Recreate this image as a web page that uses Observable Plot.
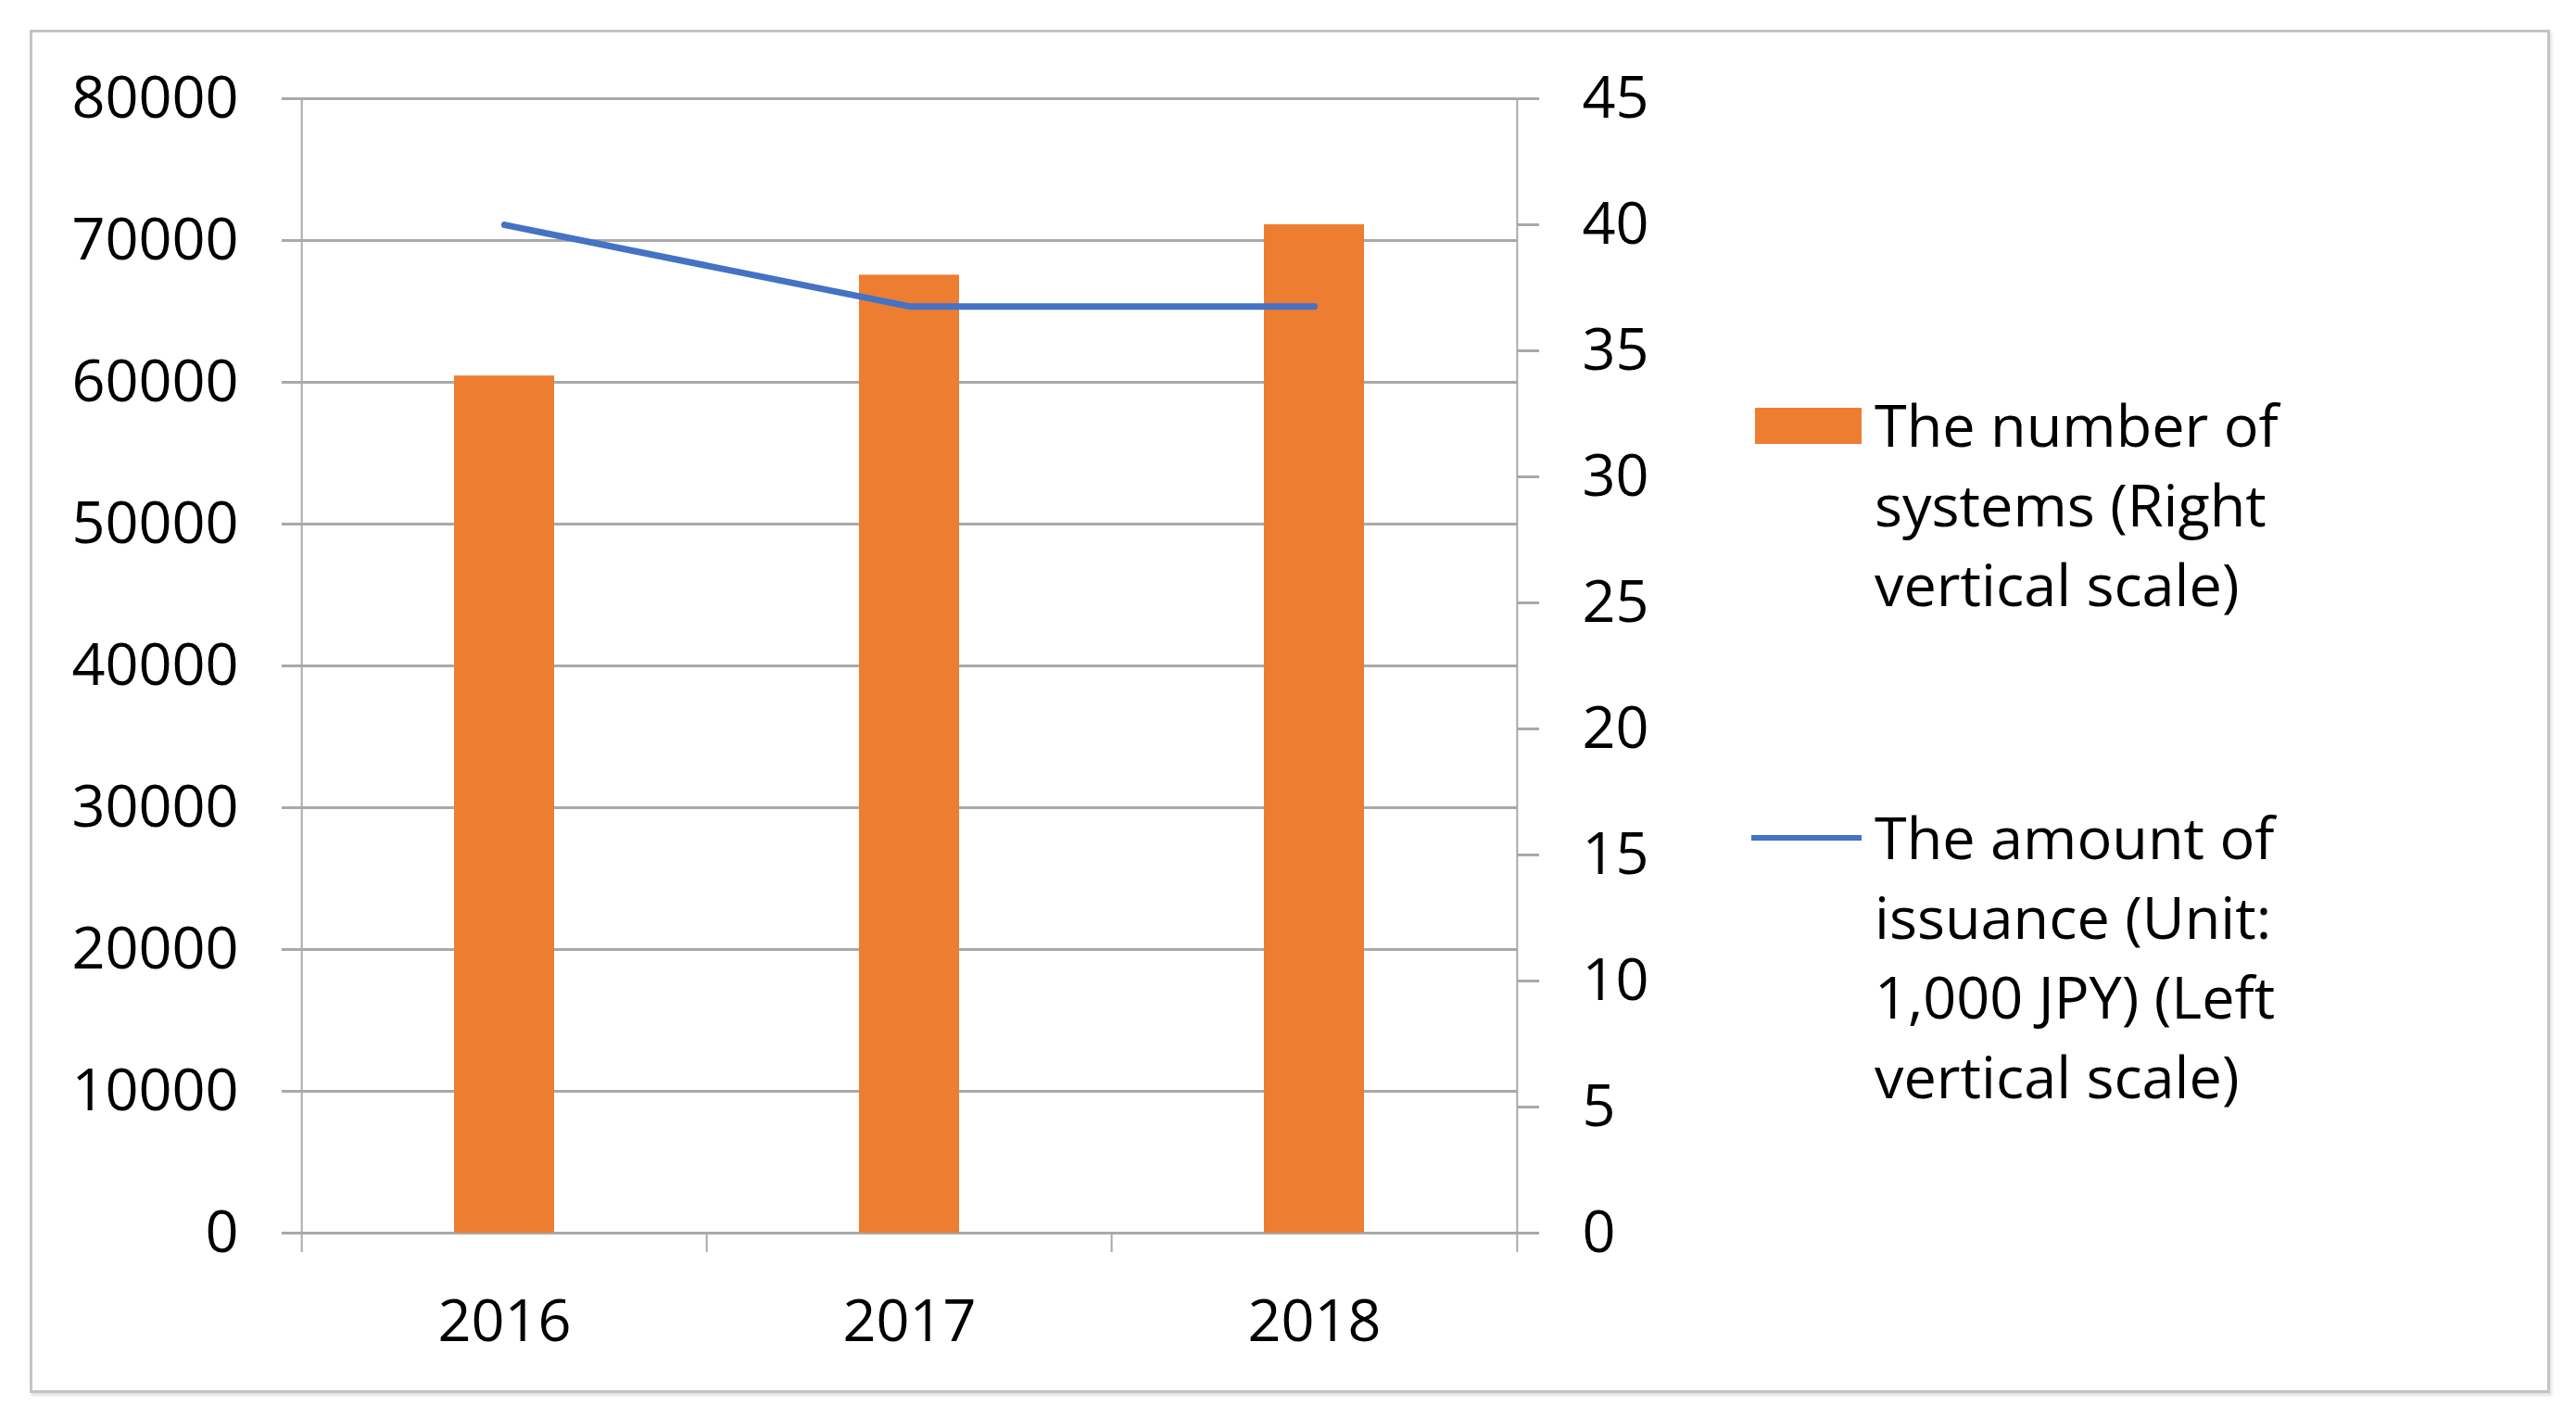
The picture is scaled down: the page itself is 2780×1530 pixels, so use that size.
<!DOCTYPE html>
<html>
<head>
<meta charset="utf-8">
<script src="https://cdn.jsdelivr.net/npm/d3@7"></script>
<script src="https://cdn.jsdelivr.net/npm/@observablehq/plot@0.6"></script>
<style>
  html, body { margin: 0; padding: 0; background: #fff; }
  #wrap { position: relative; width: 2780px; height: 1530px; overflow: hidden; font-family: "Open Sans", sans-serif; }
  #frame { position: absolute; left: 32px; top: 32px; width: 2720px; height: 1471px; box-sizing: border-box;
           border: 3px solid #c4c4c4; box-shadow: 2px 3px 3px rgba(0,0,0,0.12); }
  #chart { position: absolute; left: 0; top: 0; }
  .sw { position: absolute; }
  .lg { position: absolute; font-size: 63px; line-height: 86px; color: #000; white-space: nowrap; }
</style>
</head>
<body>
<div id="wrap">
  <div id="frame"></div>
  <div id="chart"></div>
  <div class="sw" style="left:1894px;top:440px;width:115px;height:39px;background:#ED7D31"></div>
  <div class="lg" id="lg1" style="left:2023px;top:415px"></div>
  <div class="sw" style="left:1890px;top:901px;width:119px;height:6px;background:#4472C4"></div>
  <div class="lg" id="lg2" style="left:2023px;top:860px"></div>
</div>
<script>
const years = ["2016", "2017", "2018"];
const systems = [34, 38, 40];            // right vertical scale
const issuance = [71100, 65350, 65350];  // left vertical scale (1,000 JPY)
const leftTicks = [0, 10000, 20000, 30000, 40000, 50000, 60000, 70000, 80000];
const rightTicks = [0, 5, 10, 15, 20, 25, 30, 35, 40, 45];
const legendSystems = ["The number of", "systems (Right", "vertical scale)"];
const legendIssuance = ["The amount of", "issuance (Unit:", "1,000 JPY) (Left", "vertical scale)"];

const leftMax = 80000, rightMax = 45;
const k = leftMax / rightMax;

const W = 2780, H = 1530;
const mL = 324, mR = 1143, mT = 106, mB = 200;
const step = (W - mL - mR) / years.length;

const table = years.map((year, i) => ({ year, systems: systems[i] * k, issuance: issuance[i] }));
const grid = "#a9a9a9";

const chart = Plot.plot({
  width: W, height: H,
  marginLeft: mL, marginRight: mR, marginTop: mT, marginBottom: mB,
  style: { fontFamily: "Open Sans", fontSize: "63px", color: "#000", background: "transparent", overflow: "visible" },
  x: { type: "band", domain: years, paddingInner: 0.753, paddingOuter: 0.3765, label: null },
  y: { domain: [0, leftMax], label: null },
  marks: [
    Plot.ruleY(leftTicks, { y: d => d, stroke: grid, strokeWidth: 3, insetLeft: -20 }),
    Plot.barY(table, { x: "year", y: "systems", fill: "#ED7D31" }),
    Plot.lineY(table, { x: "year", y: "issuance", stroke: "#4472C4", strokeWidth: 7, strokeLinejoin: "round" }),
    // vertical axis lines and category boundary ticks
    Plot.ruleX([years[0]], { x: d => d, dx: -step / 2, stroke: grid, strokeWidth: 2, insetBottom: -21 }),
    Plot.ruleX([years[years.length - 1]], { x: d => d, dx: step / 2, stroke: grid, strokeWidth: 2, insetBottom: -21 }),
    Plot.ruleX(years.slice(1), { x: d => d, dx: -step / 2, y1: 0, y2: 0, stroke: grid, strokeWidth: 2, insetBottom: -21 }),
    Plot.axisY({ anchor: "left", ticks: leftTicks, tickFormat: d3.format("d"), tickSize: 20, tickPadding: 47, stroke: grid, strokeWidth: 3, label: null }),
    Plot.axisY({ anchor: "right", ticks: rightTicks.map(v => v * k), tickFormat: d => String(Math.round(d / k)), tickSize: 23, tickPadding: 47, stroke: grid, strokeWidth: 3, label: null }),
    Plot.axisX({ tickSize: 0, tickPadding: 72, label: null })
  ]
});
document.getElementById("chart").appendChild(chart);
document.getElementById("lg1").innerHTML = legendSystems.join("<br>");
document.getElementById("lg2").innerHTML = legendIssuance.join("<br>");
</script>
</body>
</html>
